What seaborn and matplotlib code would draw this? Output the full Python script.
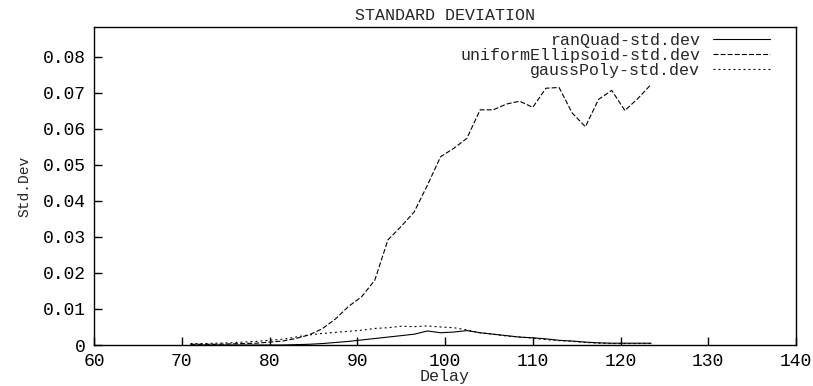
import numpy as np
import pandas as pd
import matplotlib
matplotlib.use("Agg")
import matplotlib.pyplot as plt
import seaborn as sns

# data
delay = [71, 72.5, 74, 75.5, 77, 78.5, 80, 81.5, 83, 84.5, 86, 87.5, 89, 90.5,
         92, 93.5, 95, 96.5, 98, 99.5, 101, 102.5, 104, 105.5, 107, 108.5, 110,
         111.5, 113, 114.5, 116, 117.5, 119, 120.5, 122, 123.5]

ran_quad = [0.0, 0.0, 0.0, 0.0, 0.0, 0.0, 0.0, 0.0, 0.0001, 0.0002, 0.0004,
            0.0007, 0.0010, 0.0014, 0.0018, 0.0022, 0.0026, 0.0030, 0.0039,
            0.0034, 0.0036, 0.0040, 0.0034, 0.0030, 0.0026, 0.0022, 0.0020,
            0.0017, 0.0013, 0.0011, 0.0008, 0.0006, 0.0005, 0.0005, 0.0005,
            0.0005]

uniform_ellipsoid = [0.0002, 0.0002, 0.0002, 0.0003, 0.0004, 0.0005, 0.0008,
                     0.0011, 0.0018, 0.0028, 0.0045, 0.0072, 0.0107, 0.0134,
                     0.0180, 0.0292, 0.0329, 0.0370, 0.0444, 0.0523, 0.0546,
                     0.0574, 0.0653, 0.0653, 0.0669, 0.0677, 0.0660, 0.0713,
                     0.0715, 0.0644, 0.0606, 0.0682, 0.0707, 0.0651, 0.0685,
                     0.0724]

gauss_poly = [0.0004, 0.0004, 0.0005, 0.0006, 0.0008, 0.0010, 0.0013, 0.0016,
              0.0022, 0.0028, 0.0032, 0.0035, 0.0038, 0.0041, 0.0046, 0.0048,
              0.0052, 0.0051, 0.0053, 0.0050, 0.0048, 0.0042, 0.0034, 0.0030,
              0.0025, 0.0022, 0.0019, 0.0015, 0.0012, 0.0010, 0.0007, 0.0005,
              0.0004, 0.0004, 0.0004, 0.0004]

names = ["ranQuad-std.dev", "uniformEllipsoid-std.dev", "gaussPoly-std.dev"]

df = pd.concat([
    pd.DataFrame({"Delay": delay, "std": ran_quad, "series": names[0]}),
    pd.DataFrame({"Delay": delay, "std": uniform_ellipsoid, "series": names[1]}),
    pd.DataFrame({"Delay": delay, "std": gauss_poly, "series": names[2]}),
])

sns.set_style("white")
plt.rcParams["font.family"] = ["Liberation Mono", "DejaVu Sans Mono"]
plt.rcParams["lines.scale_dashes"] = False

fig = plt.figure(figsize=(8.13, 3.86), dpi=100)
ax = fig.add_axes([94 / 813, 1 - 345 / 386, (796 - 94) / 813, (345 - 27) / 386])

sns.lineplot(data=df, x="Delay", y="std", style="series", style_order=names,
             dashes={names[0]: "", names[1]: (3.6, 1.5), names[2]: (1.4, 2.2)},
             color="black", linewidth=0.8, legend=False, ax=ax)

ax.set_xlim(60, 140)
ax.set_ylim(0, 0.0883)
ax.set_xticks(range(60, 141, 10))
ax.set_yticks([0, 0.01, 0.02, 0.03, 0.04, 0.05, 0.06, 0.07, 0.08])
ax.set_yticklabels(["0", "0.01", "0.02", "0.03", "0.04", "0.05", "0.06", "0.07", "0.08"])
ax.tick_params(direction="in", length=6, width=1, colors="black", labelsize=13,
               top=False, right=False, bottom=True, left=True, pad=6)
for s in ax.spines.values():
    s.set_color("black")
    s.set_linewidth(1)

ax.set_xlabel("Delay", fontsize=12, labelpad=-1)
ax.set_ylabel("Std.Dev", fontsize=10.5, labelpad=8)
ax.set_title("STANDARD DEVIATION", fontsize=12, pad=5)

leg = ax.legend(ax.lines[:3], names, loc="upper right", markerfirst=False,
                frameon=False, fontsize=12, handlelength=3.4, handletextpad=0.8,
                labelspacing=0.0, borderpad=0, borderaxespad=0,
                bbox_to_anchor=((770 - 94) / 702, 0.982))

fig.savefig("out.png", dpi=100)
